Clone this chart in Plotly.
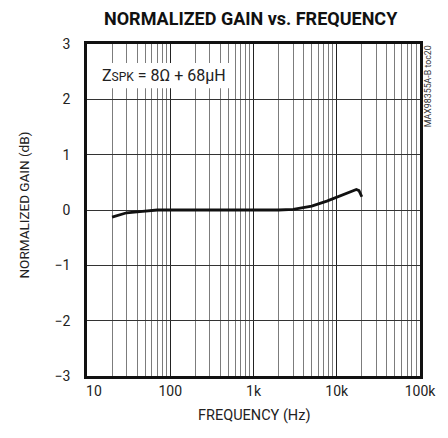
import plotly.graph_objects as go

freq_hz = [20, 25, 30, 43, 55, 70, 100, 200, 500, 1000, 1600, 2000, 3000, 4000, 5000, 7600, 10000, 13000, 17200, 18500, 20000]
gain_db = [-0.13, -0.09, -0.05, -0.03, -0.01, 0.0, 0.0, 0.0, 0.0, 0.0, -0.01, 0.0, 0.01, 0.04, 0.07, 0.16, 0.23, 0.30, 0.37, 0.35, 0.24]

x_tick_vals = [10, 100, 1000, 10000, 100000]
x_tick_text = ["\u00a0\u00a0\u00a0\u00a010", "100", "1k", "10k", "100k"]
y_tick_vals = [-3, -2, -1, 0, 1, 2, 3]

FONT = "Roboto, Liberation Sans, sans-serif"

minor_vals = [m * 10 ** d for d in range(1, 5) for m in range(2, 10)]

fig = go.Figure()
fig.add_trace(go.Scatter(x=freq_hz, y=gain_db, mode="lines",
                         line=dict(color="#111111", width=2.8),
                         showlegend=False))

fig.update_layout(
    width=440, height=430,
    margin=dict(l=79, r=28, t=36, b=62),
    paper_bgcolor="white", plot_bgcolor="white",
    font=dict(family=FONT, size=14, color="#222222"),
    xaxis=dict(type="log", range=[1, 5], tickvals=x_tick_vals, ticktext=x_tick_text,
               showgrid=True, gridcolor="#222222", gridwidth=1,
               minor=dict(tickvals=minor_vals, showgrid=True, gridcolor="#7c7c7c", gridwidth=1.4, ticks=""),
               ticks="", showline=True, linecolor="#111111", linewidth=2.5, mirror=True,
               zeroline=False, ticklabelstandoff=0,
               tickfont=dict(size=14)),
    yaxis=dict(range=[-3, 3], tickvals=y_tick_vals,
               showgrid=True, gridcolor="#333333", gridwidth=1,
               ticks="", showline=True, linecolor="#111111", linewidth=2.5, mirror=True,
               zeroline=False, ticklabelstandoff=11,
               tickfont=dict(size=14)),
)

fig.add_annotation(xref="paper", yref="paper", x=0.491, y=1.078, xanchor="center", yanchor="middle",
                   text="<b>NORMALIZED GAIN vs. FREQUENCY</b>", showarrow=False,
                   font=dict(family=FONT, size=18, color="#111111"))
fig.add_annotation(xref="paper", yref="paper", x=0.5, y=-0.118, xanchor="center", yanchor="middle",
                   text="FREQUENCY (Hz)", showarrow=False,
                   font=dict(family=FONT, size=14.5, color="#222222"))
fig.add_annotation(xref="paper", yref="paper", x=-0.1877, y=0.515, xanchor="center", yanchor="middle",
                   text="NORMALIZED GAIN (dB)", textangle=-90, showarrow=False,
                   font=dict(family=FONT, size=13.5, color="#222222"))

fig.add_shape(type="rect", xref="paper", yref="paper", x0=0.004, x1=0.444, y0=0.867, y1=0.943,
              fillcolor="white", line=dict(width=0), layer="above")
fig.add_annotation(xref="paper", yref="paper", x=0.039, y=0.904, xanchor="left", yanchor="middle",
                   text="Z<span style='font-size:12px'>SPK</span> = 8Ω + 68μH", showarrow=False,
                   font=dict(family=FONT, size=16, color="#222222"))
fig.add_annotation(xref="paper", yref="paper", x=1.024, y=0.873, xanchor="center", yanchor="middle",
                   text="MAX98355A-B toc20", textangle=-90, showarrow=False,
                   font=dict(family=FONT, size=8.8, color="#333333"))

fig.write_html("out.html")
